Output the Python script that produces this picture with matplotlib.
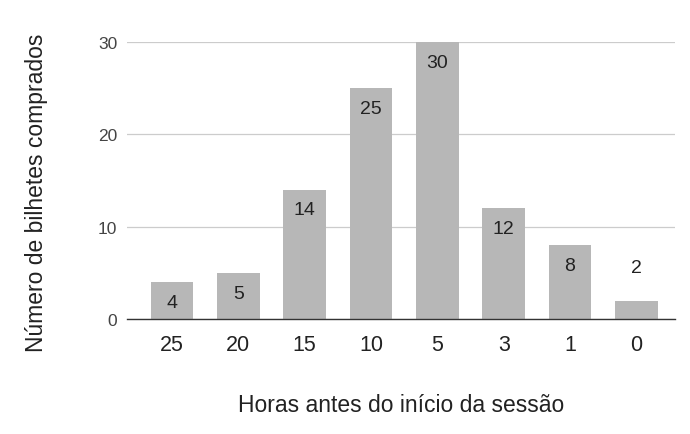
import matplotlib.pyplot as plt

plt.rcParams["font.family"] = ["Liberation Sans", "DejaVu Sans"]

hours = ["25", "20", "15", "10", "5", "3", "1", "0"]
tickets = [4, 5, 14, 25, 30, 12, 8, 2]

fig = plt.figure(figsize=(6.9, 4.35), dpi=100)
ax = fig.add_axes([0.184, 0.264, 0.794, 0.637])

x = list(range(len(hours)))
ax.bar(x, tickets, width=0.64, color="#b7b7b7", zorder=2)

# value labels: inside the bar near its top, above it when the bar is too short
for xi, v in zip(x, tickets):
    if v >= 4:
        ax.annotate(str(v), (xi, v), xytext=(0, -14.5), textcoords="offset points",
                    ha="center", va="center", fontsize=14, color="#222222", zorder=3)
    else:
        ax.annotate(str(v), (xi, v), xytext=(0, 24), textcoords="offset points",
                    ha="center", va="center", fontsize=14, color="#222222", zorder=3)

ax.set_xlim(-0.68, 7.58)
ax.set_ylim(0, 30)
ax.set_yticks([0, 10, 20, 30])
ax.set_xticks(x)
ax.set_xticklabels(hours)
ax.grid(axis="y", color="#cccccc", linewidth=0.9, zorder=0)

for side in ["top", "right", "left"]:
    ax.spines[side].set_visible(False)
ax.spines["bottom"].set_color("#333333")
ax.spines["bottom"].set_linewidth(1.0)
ax.spines["bottom"].set_zorder(4)

ax.tick_params(axis="x", length=0, pad=11, labelsize=15.5, labelcolor="#222222")
ax.tick_params(axis="y", length=0, pad=7, labelsize=12.5, labelcolor="#444444")

ax.set_xlabel("Horas antes do início da sessão", fontsize=16.5, color="#222222", va="center")
ax.set_ylabel("Número de bilhetes comprados", fontsize=16.5, color="#222222", va="center")
ax.xaxis.set_label_coords(0.5, -0.307)
ax.yaxis.set_label_coords(-0.165, 0.458)

fig.savefig("out.png", dpi=100)
